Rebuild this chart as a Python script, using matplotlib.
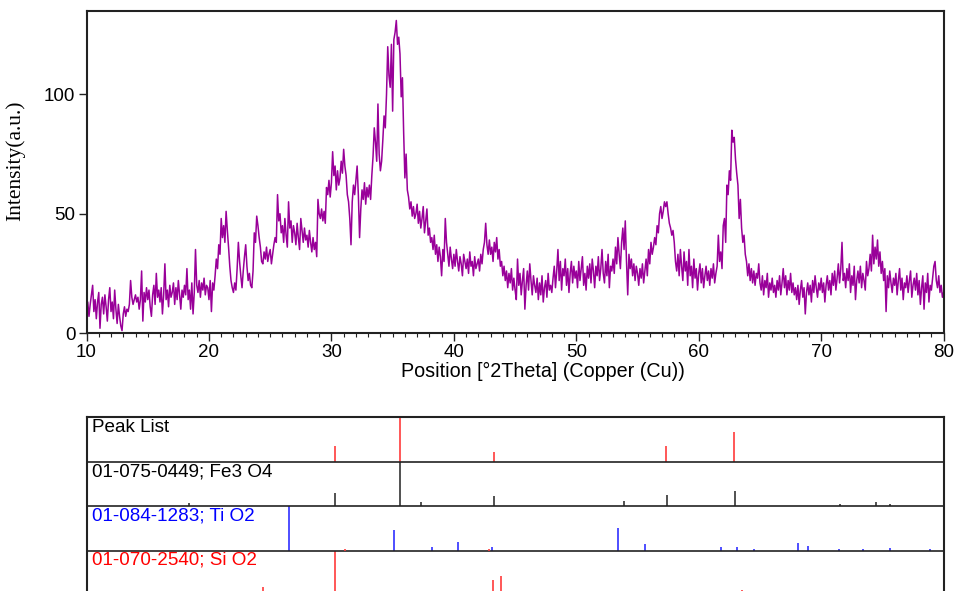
import numpy as np
import matplotlib.pyplot as plt

plt.rcParams["font.family"] = "Liberation Sans"

# XRD scan, 10-80 deg 2theta, step 0.1 deg
scan_start = 10.0
scan_step = 0.1
intensity = [
    10, 13, 7, 12, 16, 20, 9, 14, 6, 13,
    17, 2, 12, 15, 8, 16, 11, 5, 14, 19,
    9, 13, 6, 18, 10, 4, 12, 7, 3, 1,
    8, 11, 7, 10, 9, 12, 22, 15, 12, 14,
    16, 13, 15, 10, 14, 26, 5, 17, 13, 19,
    14, 18, 11, 7, 16, 20, 12, 25, 15, 18,
    13, 19, 8, 16, 29, 14, 18, 11, 20, 15,
    17, 21, 12, 19, 14, 22, 16, 10, 18, 15,
    20, 16, 27, 14, 18, 10, 21, 8, 17, 35,
    20, 17, 22, 15, 21, 18, 23, 16, 20, 19,
    14, 22, 9, 21, 18, 24, 31, 27, 37, 33,
    48, 40, 45, 38, 51, 43, 36, 28, 22, 19,
    17, 21, 18, 27, 38, 30, 24, 19, 26, 32,
    37, 28, 22, 25, 20, 19, 26, 42, 38, 49,
    45, 40, 36, 30, 29, 34, 31, 36, 30, 33,
    35, 29, 33, 37, 40, 38, 58, 47, 50, 42,
    45, 38, 48, 41, 36, 55, 44, 47, 38, 45,
    42, 37, 46, 40, 35, 48, 43, 38, 44, 39,
    41, 36, 43, 38, 34, 40, 35, 38, 32, 56,
    50, 48, 52, 47, 51, 46, 61, 58, 64, 57,
    63, 76, 66, 70, 60, 68, 62, 65, 72, 67,
    77, 70, 66, 58, 55, 48, 37, 55, 62, 58,
    64, 70, 58, 40, 52, 60, 56, 63, 54, 61,
    57, 62, 56, 66, 74, 86, 80, 72, 96, 75,
    68, 72, 81, 91, 86, 100, 120, 108, 103, 121,
    93, 123, 126, 131, 121, 124, 117, 99, 107, 84,
    65, 75, 60, 57, 52, 55, 49, 53, 48, 50,
    54, 46, 51, 44, 48, 53, 42, 47, 52, 41,
    44, 38, 40, 35, 41, 33, 37, 30, 36, 32,
    24, 35, 30, 48, 38, 33, 28, 36, 31, 27,
    33, 28, 35, 30, 26, 32, 29, 24, 33, 30,
    27, 31, 25, 34, 28, 30, 24, 32, 27, 29,
    31, 26, 33, 29, 35, 38, 46, 37, 33, 39,
    33, 36, 30, 38, 34, 40, 31, 35, 28, 30,
    24, 28, 22, 26, 19, 25, 21, 27, 18, 23,
    18, 14, 31, 20, 25, 16, 22, 27, 10, 20,
    26, 18, 29, 22, 16, 24, 20, 17, 23, 14,
    21, 16, 24, 13, 19, 22, 15, 25, 18, 20,
    17, 23, 28, 19, 26, 35, 22, 30, 18, 27,
    24, 31, 20, 27, 17, 25, 30, 21, 28, 23,
    26, 19, 30, 22, 27, 32, 20, 25, 18, 28,
    23, 29, 21, 31, 26, 19, 28, 24, 32, 22,
    27, 35, 25, 21, 30, 24, 33, 19, 28, 26,
    31, 25, 36, 29, 40, 33, 27, 38, 44, 35,
    47, 30, 16, 33, 27, 31, 24, 29, 22, 28,
    25, 20, 27, 23, 29, 21, 26, 31, 24, 35,
    29, 38, 33, 36, 40, 37, 45, 42, 50, 53,
    48, 51, 55, 53, 55, 50, 46, 44, 41, 43,
    38, 30, 26, 33, 24, 35, 28, 22, 34, 26,
    30, 20, 35, 24, 28, 19, 31, 23, 27, 18,
    25, 29, 21, 27, 19, 24, 28, 22, 26, 20,
    27, 23, 29, 21, 25, 28, 41, 30, 34, 27,
    45, 48, 38, 62, 58, 68, 64, 85, 80, 82,
    73, 67, 62, 48, 56, 44, 38, 41, 33, 30,
    24, 29, 22, 27, 21, 26, 20, 25, 23, 29,
    21, 18, 24, 16, 22, 19, 25, 15, 21, 18,
    23, 17, 20, 15, 22, 18, 24, 16, 21, 27,
    19, 24, 16, 22, 18, 25, 17, 21, 16, 19,
    14, 20, 12, 18, 22, 15, 19, 8, 17, 21,
    16, 20, 13, 22, 17, 24, 19, 15, 21, 18,
    23, 17, 21, 13, 20, 24, 18, 22, 16, 25,
    20, 26, 18, 23, 29, 21, 27, 38, 22, 25,
    19, 27, 22, 29, 17, 24, 20, 28, 14, 22,
    26, 21, 28, 19, 25, 22, 18, 30, 24, 27,
    33, 26, 41, 29, 36, 31, 39, 28, 34, 25,
    30, 22, 27, 9, 24, 19, 26, 21, 17, 23,
    20, 25, 16, 22, 27, 18, 23, 14, 21, 19,
    24, 17, 22, 26, 15, 20, 23, 18, 25, 16,
    22, 12, 19, 24, 10, 21, 17, 25, 13, 20,
    18, 23, 28, 30, 22, 19, 24, 17, 20, 15,
    17,
]

# Stick patterns (position, relative height)
peaklist_pos = [30.3, 35.6, 43.3, 57.35, 62.85]
peaklist_h = [0.36, 1.0, 0.22, 0.36, 0.68]

fe3o4_pos = [18.4, 30.3, 35.6, 37.3, 43.3, 53.9, 57.4, 63.0, 71.55, 74.5, 75.6]
fe3o4_h = [0.07, 0.30, 1.0, 0.09, 0.23, 0.11, 0.26, 0.35, 0.04, 0.09, 0.06]

tio2_pos = [26.55, 35.15, 38.25, 40.3, 43.1, 53.4, 55.65, 61.85, 63.1, 64.5,
            68.1, 68.9, 71.45, 73.45, 75.6, 78.85]
tio2_h = [1.0, 0.47, 0.09, 0.19, 0.08, 0.51, 0.16, 0.08, 0.08, 0.03,
          0.17, 0.11, 0.03, 0.03, 0.06, 0.03]
tio2_extra_pos = [31.1, 42.9]   # faint red marks on the Ti O2 row
tio2_extra_h = [0.04, 0.04]

sio2_pos = [24.4, 30.3, 43.2, 43.85, 47.15, 50.45, 54.1, 54.9, 57.2, 57.7,
            63.5, 71.6, 72.7, 77.9]
sio2_h = [0.19, 1.0, 0.34, 0.42, 0.05, 0.06, 0.04, 0.04, 0.05, 0.05,
          0.12, 0.06, 0.05, 0.04]

rows = [
    ("Peak List", "black", peaklist_pos, peaklist_h, "#ff3b3b"),
    ("01-075-0449; Fe3 O4", "black", fe3o4_pos, fe3o4_h, "#333333"),
    ("01-084-1283; Ti O2", "#0000ff", tio2_pos, tio2_h, "#3030ff"),
    ("01-070-2540; Si O2", "#ff0000", sio2_pos, sio2_h, "#ff3b3b"),
]

angles = scan_start + scan_step * np.arange(len(intensity))

fig = plt.figure(figsize=(9.55, 5.91), dpi=100)

# Main pattern
ax = fig.add_axes([0.0906, 0.4365, 0.8975, 0.545])
ax.plot(angles, intensity, color="#990099", linewidth=1.1)
ax.set_xlim(10, 80)
ax.set_ylim(0, 135)
ax.set_xticks(np.arange(10, 81, 10))
ax.set_xticks(np.arange(10, 81, 1), minor=True)
ax.set_yticks([0, 50, 100])
ax.tick_params(axis="both", which="major", direction="out", length=6,
               width=1, labelsize=13.5, color="#222222", pad=2)
ax.tick_params(axis="x", which="minor", direction="out", length=3, width=0.8,
               color="#222222")
for s in ax.spines.values():
    s.set_linewidth(1.5)
    s.set_color("#222222")
ax.set_xlabel("Position [°2Theta] (Copper (Cu))", fontsize=14.2)
ax.xaxis.set_label_coords(0.533, -0.09)
ax.set_ylabel("Intensity(a.u.)", fontsize=15.5, family="Liberation Serif")
ax.yaxis.set_label_coords(-0.0712, 0.534)

# Stick patterns panel
bx = fig.add_axes([0.0906, -0.0068, 0.8975, 0.3004])
nrows = len(rows)
bx.set_xlim(10, 80)
bx.set_ylim(0, nrows)
for i, (label, tcolor, pos, h, scolor) in enumerate(rows):
    base = nrows - 1 - i
    bx.vlines(pos, base, base + np.array(h), color=scolor, linewidth=1.2)
    bx.text(10.45, base + 0.97, label, color=tcolor, fontsize=13.6,
            va="top", ha="left")
    if i > 0:
        bx.axhline(base + 1, color="#222222", linewidth=1.2)
bx.vlines(tio2_extra_pos, 1, 1 + np.array(tio2_extra_h), color="#ff3b3b",
          linewidth=1.2)
bx.set_xticks([])
bx.set_yticks([])
for s in bx.spines.values():
    s.set_linewidth(1.5)
    s.set_color("#222222")

fig.savefig("out.png", dpi=100)
